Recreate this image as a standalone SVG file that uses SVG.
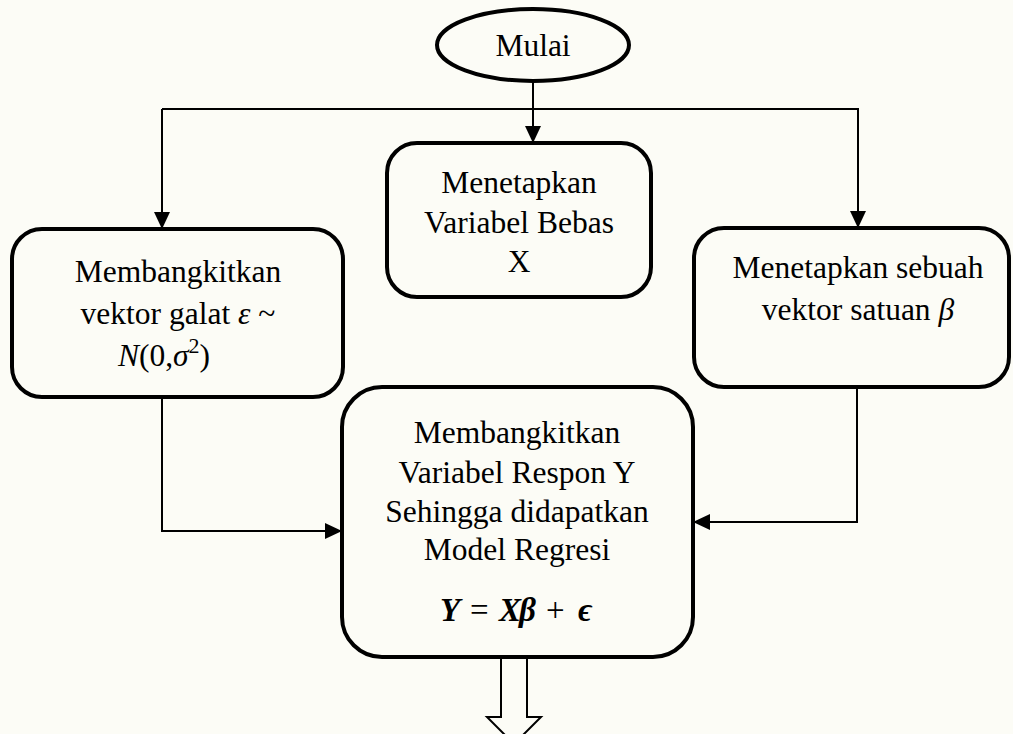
<svg xmlns="http://www.w3.org/2000/svg" width="1013" height="734" viewBox="0 0 1013 734">
<defs>
<style>
.box{fill:none;stroke:#000;stroke-width:4}
.con{fill:none;stroke:#000;stroke-width:2}
.t{font-family:"Liberation Serif","Times New Roman",serif;font-size:31.5px;fill:#000;text-anchor:middle}
.f{font-family:"Liberation Serif","Times New Roman",serif;font-size:33px;fill:#000}
.m{font-style:italic}
.b{font-weight:bold;font-style:italic}
</style>
<marker id="ah" markerWidth="18" markerHeight="16" refX="17" refY="8" orient="auto" markerUnits="userSpaceOnUse">
<path d="M0,0 L17,8 L0,16 z" fill="#000"/>
</marker>
</defs>
<rect x="0" y="0" width="1013" height="734" fill="#fcfcf6"/>
<g id="connectors">
<line class="con" x1="533" y1="82" x2="533" y2="143" marker-end="url(#ah)"/>
<polyline class="con" points="162,109 858,109 858,228" marker-end="url(#ah)"/>
<line class="con" x1="162" y1="109" x2="162" y2="229" marker-end="url(#ah)"/>
<polyline class="con" points="162,397 162,531 342,531" marker-end="url(#ah)"/>
<polyline class="con" points="857,387 857,522 693,522" marker-end="url(#ah)"/>
<polygon class="con" points="501,658 501,717 487,717 514,744 541,717 527,717 527,658"/>
</g>
<g id="start">
<ellipse cx="533" cy="45" rx="96" ry="36" fill="none" stroke="#000" stroke-width="4"/>
<text class="t" x="533" y="56">Mulai</text>
</g>
<g id="variabel-bebas">
<rect class="box" x="387" y="143" width="264" height="154" rx="30"/>
<text class="t" x="519" y="193">Menetapkan</text>
<text class="t" x="519" y="233">Variabel Bebas</text>
<text class="t" x="519" y="272">X</text>
</g>
<g id="vektor-galat">
<rect class="box" x="12" y="229" width="331" height="168" rx="30"/>
<text class="t" x="178" y="282">Membangkitkan</text>
<text class="t" x="178" y="324">vektor galat <tspan class="m">ε</tspan> ~</text>
<text class="t" x="164" y="366"><tspan class="m">N</tspan>(0,<tspan class="m">σ</tspan><tspan font-size="22" dy="-13">2</tspan><tspan dy="13">)</tspan></text>
</g>
<g id="vektor-satuan">
<rect class="box" x="694" y="228" width="315" height="159" rx="30"/>
<text class="t" x="858" y="278">Menetapkan sebuah</text>
<text class="t" x="858" y="320">vektor satuan <tspan class="m">β</tspan></text>
</g>
<g id="model-regresi">
<rect class="box" x="342" y="387" width="351" height="270" rx="40"/>
<text class="t" x="517" y="443">Membangkitkan</text>
<text class="t" x="517" y="483">Variabel Respon Y</text>
<text class="t" x="517" y="522">Sehingga didapatkan</text>
<text class="t" x="517" y="560">Model Regresi</text>
<text class="f" y="621"><tspan class="b" x="440">Y</tspan><tspan x="470">=</tspan><tspan class="b" x="499">X</tspan><tspan class="b" x="519">β</tspan><tspan x="546">+</tspan><tspan class="b" x="578">ϵ</tspan></text>
</g>
</svg>
